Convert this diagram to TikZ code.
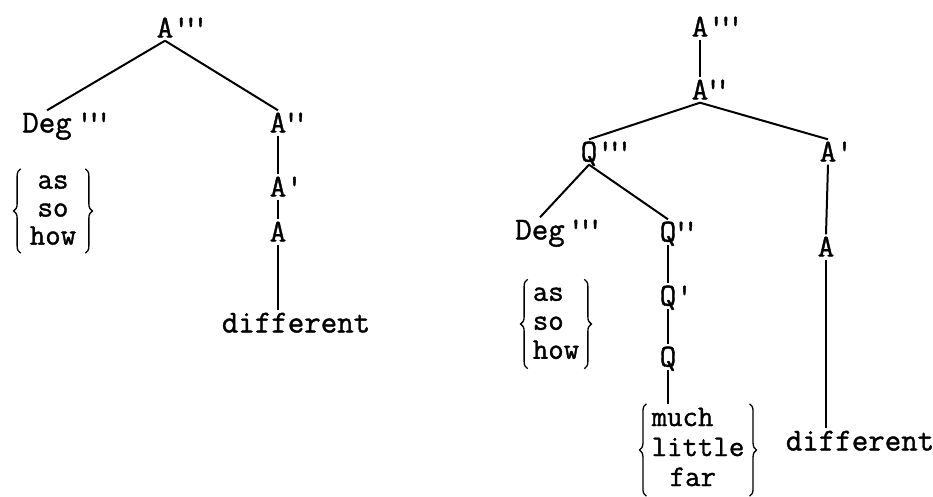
\documentclass[tikz,border=0pt]{standalone}
\usepackage{fontspec}
\newfontfamily\typewr{Latin Modern Mono}[FakeBold=1.2]
\usepackage{tikz}
\usetikzlibrary{positioning,decorations.pathreplacing}
\newcommand\tpr{\makebox[0.3em]{'}}

\begin{document}
\begin{tikzpicture}[
  x=1pt, y=-1pt,
  cat/.style={
    font=\typewr\fontsize{32}{28}\selectfont,
    inner sep=3pt,
    text height=19pt,
    text depth=0pt
    },
  wordlist/.style={
    font=\typewr\fontsize{30}{#1}\selectfont,
    inner xsep=5pt,
    inner ysep=1pt
    },
  curly/.style={
    decorate,
    decoration={brace, amplitude=7pt},
    line width=1.3pt
    },
  branch/.style={
    line width=2pt
  }
]
\useasboundingbox (0,0) rectangle (933,496);

% left tree
\node[cat] (lAtop) at (165,28) {A\rlap{\kern0.1em\tpr\tpr\tpr}};
\node[cat] (lDeg) at (47,123) {Deg\rlap{\kern0.25em\tpr\tpr\tpr}};
\node[cat] (lA2) at (278,123) {A\rlap{\tpr\tpr}};
\node[cat] (lA1) at (278,187) {A\rlap{'}};
\node[cat] (lA0) at (278,232) {A};
\node[cat] (ldiff) at (296,323) {different};
\node[wordlist=28, inner xsep=9pt, inner ysep=0pt] (lwords) at (53,211)
  {\begin{tabular}{@{}c@{}}as\\so\\how\end{tabular}};

\draw[curly] (lwords.south west) -- (lwords.north west);
\draw[curly] (lwords.north east) -- (lwords.south east);
\draw[branch] (lAtop.south) -- (lDeg.north);
\draw[branch] (lAtop.south) -- (lA2.north);
\draw[branch] (lA2.south) -- (lA1.north);
\draw[branch] (lA1.south) -- (lA0.north);
\draw[branch] (lA0.south) -- (lA0.south |- ldiff.north);

% right tree
\node[cat] (rAtop) at (700,27) {A\rlap{\kern0.1em\tpr\tpr\tpr}};
\node[cat] (rA2) at (700,90) {A\rlap{\tpr\tpr}};
\node[cat] (rQ3) at (589,152) {Q\rlap{\kern0.1em\tpr\tpr\tpr}};
\node[cat] (rA1) at (828,152) {A\rlap{'}};
\node[cat] (rDeg) at (540,230) {Deg\rlap{\kern0.2em\tpr\tpr\tpr}};
\node[cat] (rQ2) at (668,232) {Q\rlap{\tpr\tpr}};
\node[cat] (rQ1) at (668,296) {Q\rlap{'}};
\node[cat] (rQ0) at (668,357) {Q};
\node[cat] (rA0) at (826,247) {A};
\node[cat] (rdiff) at (860,441) {different};
\node[wordlist=29] (rwords) at (556,324)
  {\begin{tabular}{@{}l@{}}as\\so\\how\end{tabular}};
\node[wordlist=30] (rmuch) at (698,450)
  {\begin{tabular}{@{}l@{}}much\\little\\\hspace{0.6em}far\end{tabular}};

\draw[curly] (rwords.south west) -- (rwords.north west);
\draw[curly] (rwords.north east) -- (rwords.south east);
\draw[curly] (rmuch.south west) -- (rmuch.north west);
\draw[curly] (rmuch.north east) -- (rmuch.south east);
\draw[branch] (rAtop.south) -- (rA2.north);
\draw[branch] (rA2.south) -- (rQ3.north);
\draw[branch] (rA2.south) -- (rA1.north);
\draw[branch] (rQ3.south) -- (rDeg.north);
\draw[branch] (rQ3.south) -- (rQ2.north);
\draw[branch] (rQ2.south) -- (rQ1.north);
\draw[branch] (rQ1.south) -- (rQ0.north);
\draw[branch] (rQ0.south) -- (rQ0.south |- rmuch.north);
\draw[branch] (rA1.south) -- (rA0.north);
\draw[branch] (rA0.south) -- (rA0.south |- rdiff.north);
\end{tikzpicture}
\end{document}
